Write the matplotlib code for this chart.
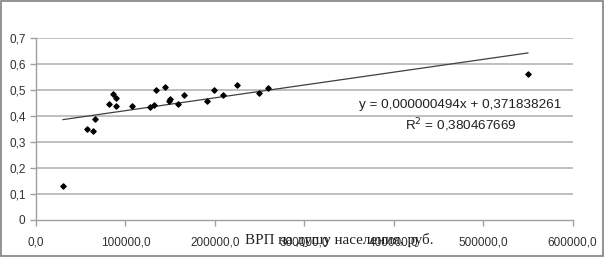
import matplotlib
matplotlib.use("Agg")
from matplotlib import pyplot as plt
from matplotlib.patches import Rectangle
from matplotlib.ticker import FuncFormatter

# ВРП на душу населения, руб. (x) и индекс (y)
grp = [30200, 56700, 63700, 66300, 81600, 86100, 89100, 89100, 107700, 127800,
       132300, 133800, 143900, 148300, 149400, 159100, 165800, 191200, 199000,
       208700, 224700, 249300, 259000, 550000]
index = [0.131, 0.350, 0.343, 0.388, 0.448, 0.487, 0.471, 0.440, 0.441, 0.437,
         0.442, 0.499, 0.511, 0.460, 0.466, 0.448, 0.480, 0.460, 0.501,
         0.480, 0.520, 0.490, 0.508, 0.562]

slope = 0.000000494
intercept = 0.371838261
r2_text = "0,380467669"

xticks = [0, 100000, 200000, 300000, 400000, 500000, 600000]
yticks = [0, 0.1, 0.2, 0.3, 0.4, 0.5, 0.6, 0.7]

fig = plt.figure(figsize=(6.04, 2.57), dpi=100)
ax = fig.add_axes([0.0596, 0.144, 0.8884, 0.707])

for yv in yticks[1:]:
    ax.axhline(yv, color="#bfbfbf", linewidth=1.4, zorder=1)

x_trend = [min(grp), max(grp)]
y_trend = [slope * v + intercept for v in x_trend]
ax.plot(x_trend, y_trend, color="#404040", linewidth=0.9, zorder=2)
ax.scatter(grp, index, marker="D", s=7, color="black", zorder=3)

ax.set_xlim(0, 600000)
ax.set_ylim(0, 0.7)
ax.set_xticks(xticks)
ax.set_yticks(yticks)
ax.xaxis.set_major_formatter(FuncFormatter(lambda v, p: ("%.1f" % v).replace(".", ",")))
ax.yaxis.set_major_formatter(FuncFormatter(lambda v, p: "0" if v == 0 else ("%.1f" % v).replace(".", ",")))

for s in ["top", "right"]:
    ax.spines[s].set_visible(False)
for s in ["left", "bottom"]:
    ax.spines[s].set_color("#a0a0a0")
    ax.spines[s].set_linewidth(1.0)
ax.tick_params(axis="both", colors="#a0a0a0", length=4, width=1.0, direction="out",
               labelcolor="#303030", labelsize=8.5)
ax.tick_params(axis="x", pad=8)
for lbl in ax.get_xticklabels() + ax.get_yticklabels():
    lbl.set_family("Liberation Sans")

fig.text(0.762, 0.591, "y = 0,000000494x + 0,371838261", ha="center", va="center",
         fontsize=9.7, family="Liberation Sans", color="#202020")
fig.text(0.763, 0.514, "R$^2$ = " + r2_text, ha="center", va="center",
         fontsize=9.7, family="Liberation Sans", color="#202020")

fig.text(0.405, 0.065, "ВРП на душу населения, руб.", ha="left", va="center",
         fontsize=10.8, family="Liberation Serif", color="#202020")

fig.patches.append(Rectangle((0.001, 0.002), 0.997, 0.995, transform=fig.transFigure,
                             fill=False, edgecolor="#808080", linewidth=1.2))

fig.savefig("out.png", dpi=100)
